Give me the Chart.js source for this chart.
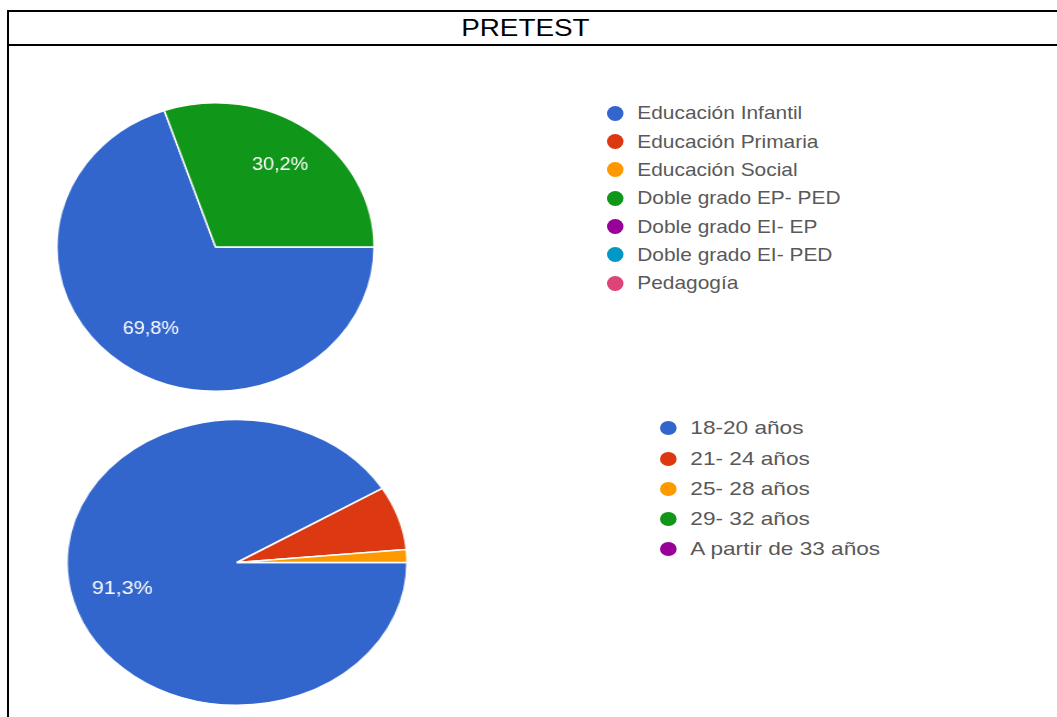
<!DOCTYPE html>
<html>
<head>
<meta charset="utf-8">
<script src="https://cdn.jsdelivr.net/npm/chart.js@4/dist/chart.umd.min.js"></script>
<style>
  html, body { margin: 0; padding: 0; background: #fff; }
  body { width: 1057px; height: 717px; position: relative; overflow: hidden; font-family: "Liberation Sans", Arial, sans-serif; }
  .hline { position: absolute; left: 7px; right: 0; height: 2px; background: #000; }
  .vline { position: absolute; left: 7px; top: 10px; width: 2px; bottom: 0; background: #000; }
  #title { position: absolute; top: 11px; height: 34px; line-height: 34px; left: 0; width: 1051px; text-align: center; font-size: 24px; color: #000; }
  #title span { display: inline-block; transform: scaleX(1.16); transform-origin: center; }
  canvas { position: absolute; }
  .legend { position: absolute; transform-origin: 0 0; }
  .row { position: absolute; left: 0; display: flex; align-items: center; white-space: nowrap; color: #595959; font-size: 19px; }
  .dot { display: inline-block; border-radius: 50%; flex: none; }
</style>
</head>
<body>
<div class="hline" style="top:10px"></div>
<div class="hline" style="top:44px"></div>
<div class="vline"></div>
<div id="title"><span>PRETEST</span></div>

<canvas id="c1" width="290" height="290" style="left:56.3px;top:101.5px;width:318.3px;height:290px"></canvas>
<canvas id="c2" width="287" height="287" style="left:66px;top:419px;width:342.4px;height:287px"></canvas>
<div id="leg1" class="legend"></div>
<div id="leg2" class="legend"></div>

<script>
// ---- data ----
const categories1 = ['Educación Infantil', 'Educación Primaria', 'Educación Social', 'Doble grado EP- PED', 'Doble grado EI- EP', 'Doble grado EI- PED', 'Pedagogía'];
const values1 = [30, 0, 0, 13, 0, 0, 0];
const colors1 = ['#3366cc', '#dc3912', '#ff9900', '#109618', '#990099', '#0099c6', '#dd4477'];

const categories2 = ['18-20 años', '21- 24 años', '25- 28 años', '29- 32 años', 'A partir de 33 años'];
const values2 = [63, 5, 1, 0, 0];
const colors2 = ['#3366cc', '#dc3912', '#ff9900', '#109618', '#990099'];

// ---- percentage labels inside slices ----
const sliceLabels = {
  id: 'sliceLabels',
  afterDatasetsDraw(chart) {
    const ctx = chart.ctx;
    const data = chart.data.datasets[0].data;
    const total = data.reduce((a, b) => a + b, 0);
    const meta = chart.getDatasetMeta(0);
    ctx.save();
    ctx.font = '18px "Liberation Sans", Arial, sans-serif';
    ctx.fillStyle = '#ffffff';
    ctx.textAlign = 'center';
    ctx.textBaseline = 'middle';
    meta.data.forEach((arc, i) => {
      const frac = data[i] / total;
      if (frac < 0.1) return;
      const p = arc.getProps(['x', 'y', 'startAngle', 'endAngle', 'outerRadius'], true);
      const mid = (p.startAngle + p.endAngle) / 2;
      const r = p.outerRadius * 0.7;
      const txt = (frac * 100).toFixed(1).replace('.', ',') + '%';
      ctx.fillText(txt, p.x + Math.cos(mid) * r, p.y + Math.sin(mid) * r);
    });
    ctx.restore();
  }
};

function makePie(id, labels, values, colors) {
  return new Chart(document.getElementById(id), {
    type: 'pie',
    data: {
      labels: labels,
      datasets: [{ data: values, backgroundColor: colors, borderColor: '#ffffff', borderWidth: 1.5 }]
    },
    options: {
      responsive: false,
      animation: false,
      rotation: 90,
      layout: { padding: 0 },
      plugins: { legend: { display: false }, tooltip: { enabled: false } }
    },
    plugins: [sliceLabels]
  });
}

function makeLegend(elId, chart, opts) {
  const el = document.getElementById(elId);
  el.style.left = opts.left + 'px';
  el.style.top = '0px';
  el.style.transform = 'scaleX(' + opts.sx + ')';
  const labels = chart.data.labels;
  const cols = chart.data.datasets[0].backgroundColor;
  labels.forEach((lab, i) => {
    const row = document.createElement('div');
    row.className = 'row';
    const cy = opts.firstY + opts.step * i;
    row.style.top = (cy - opts.step / 2) + 'px';
    row.style.height = opts.step + 'px';
    const dot = document.createElement('span');
    dot.className = 'dot';
    dot.style.width = opts.dot + 'px';
    dot.style.height = opts.dot + 'px';
    dot.style.background = cols[i];
    dot.style.marginRight = opts.gap + 'px';
    const t = document.createElement('span');
    t.textContent = lab;
    row.appendChild(dot);
    row.appendChild(t);
    el.appendChild(row);
  });
}

const chart1 = makePie('c1', categories1, values1, colors1);
const chart2 = makePie('c2', categories2, values2, colors2);

makeLegend('leg1', chart1, { left: 606.7, sx: 1.1, firstY: 113.3, step: 28.33, dot: 15, gap: 12.5 });
makeLegend('leg2', chart2, { left: 659.7, sx: 1.19, firstY: 428.3, step: 30.3, dot: 14, gap: 11.5 });
</script>
</body>
</html>
